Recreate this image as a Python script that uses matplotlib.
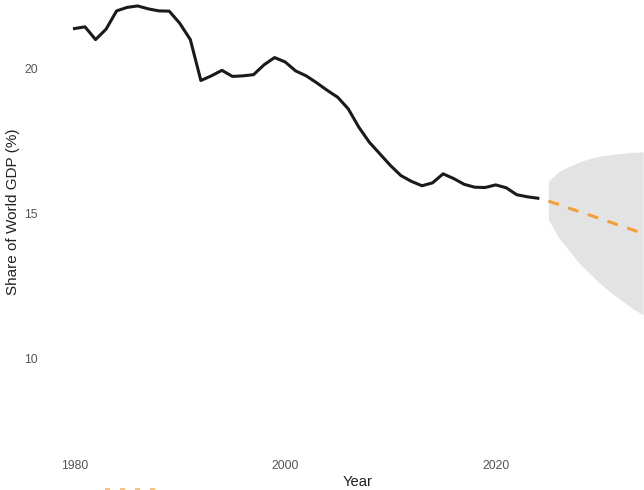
import matplotlib.pyplot as plt
from matplotlib.lines import Line2D

plt.rcParams['font.family'] = ['Liberation Sans', 'DejaVu Sans']

# historical share of world GDP (%)
hist_years = list(range(1980, 2025))
hist_share = [21.37, 21.43, 20.99, 21.35, 21.98, 22.10, 22.15, 22.05, 21.98, 21.97,
              21.55, 20.99, 19.58, 19.74, 19.93, 19.72, 19.74, 19.78, 20.12, 20.37,
              20.22, 19.91, 19.74, 19.50, 19.24, 19.00, 18.60, 17.97, 17.45, 17.05,
              16.65, 16.30, 16.10, 15.95, 16.05, 16.36, 16.20, 16.00, 15.90, 15.89,
              15.98, 15.88, 15.64, 15.57, 15.52]

# forecast with interval
fc_years = list(range(2025, 2035))
fc_mean = [15.42, 15.30, 15.17, 15.05, 14.93, 14.80, 14.68, 14.55, 14.43, 14.30]
fc_upper = [16.10, 16.45, 16.62, 16.78, 16.90, 16.98, 17.03, 17.07, 17.10, 17.12]
fc_lower = [14.78, 14.15, 13.70, 13.25, 12.90, 12.55, 12.25, 11.98, 11.72, 11.50]

xticks = [1980, 2000, 2020]
yticks = [10, 15, 20]

W, H = 644, 490
fig = plt.figure(figsize=(W / 100, H / 100), dpi=100)
# axes box in pixels: x 45..644, y 0..452 (from top)
ax = fig.add_axes([45 / W, (H - 452) / H, (644 - 45) / W, 452 / H])

ax.fill_between(fc_years, fc_lower, fc_upper, color='#e3e3e3', linewidth=0)
ax.plot(hist_years, hist_share, color='#1a1a1a', lw=2.2, solid_joinstyle='round')
ax.plot(fc_years, fc_mean, color='#f4a03a', lw=2.2, dashes=(3.6, 3.2))

ax.set_xlim(1977.2, 2034.08)
ax.set_ylim(6.77, 22.355)
ax.set_xticks(xticks)
ax.set_yticks(yticks)
ax.set_xticklabels([str(t) for t in xticks])
ax.set_yticklabels([str(t) for t in yticks])
ax.tick_params(length=0, labelsize=8.7, labelcolor='#555555')
ax.tick_params(axis='y', pad=5)
ax.tick_params(axis='x', pad=5.4)
for s in ax.spines.values():
    s.set_visible(False)

fig.text(13 / W, 1 - 212 / H, 'Share of World GDP (%)', rotation=90,
         ha='center', va='center', fontsize=11, color='#222222')
fig.text(358 / W, 1 - 482 / H, 'Year', ha='center', va='center',
         fontsize=10.6, color='#222222')

# cut-off legend key peeking at the bottom edge
fig.add_artist(Line2D([105 / W, 158 / W], [0.6 / H, 0.6 / H], color='#f6b86a',
                      lw=1.2, dashes=(3, 6), transform=fig.transFigure))

fig.savefig('out.png', dpi=100)
